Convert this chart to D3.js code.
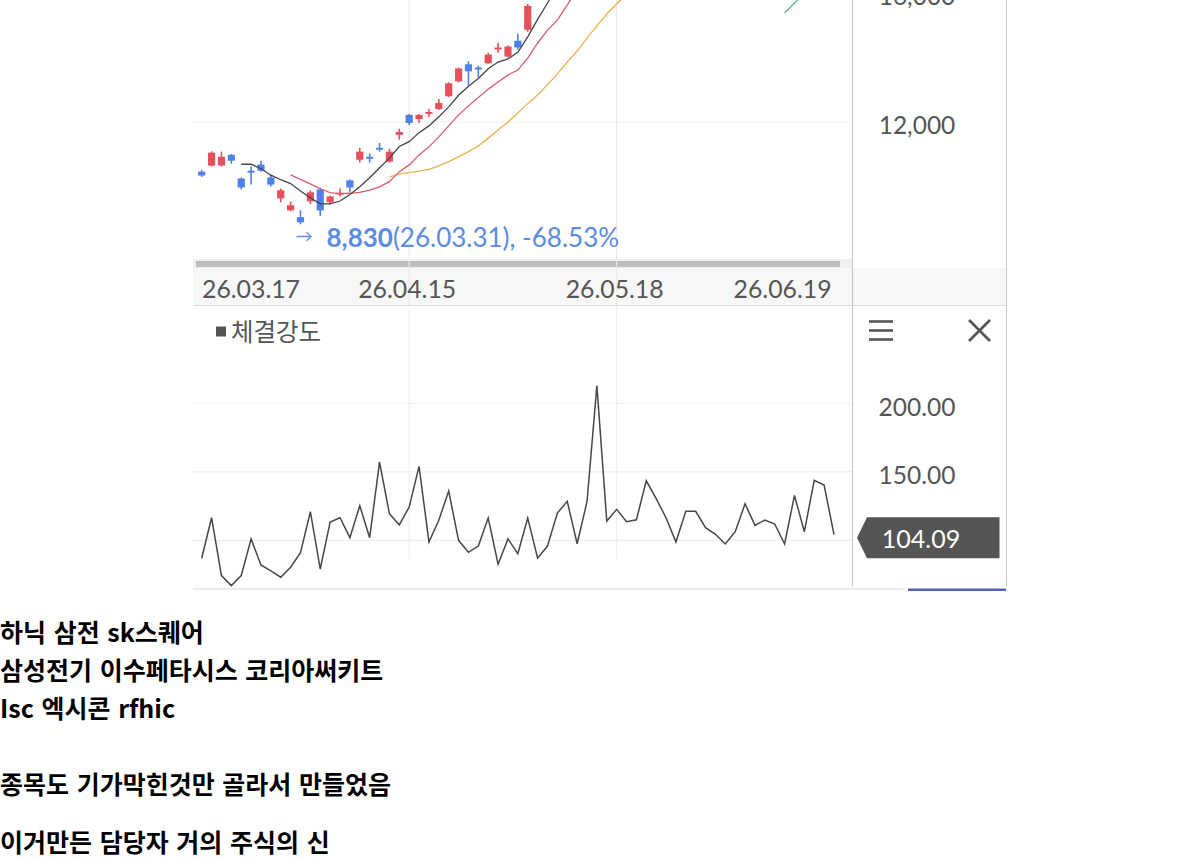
<!DOCTYPE html>
<html>
<head>
<meta charset="utf-8">
<script src="https://cdnjs.cloudflare.com/ajax/libs/d3/7.8.5/d3.min.js"></script>
<style>
  body { margin: 0; background: #fff; }
  svg { display: block; }
</style>
</head>
<body>
<div id="chart"></div>
<script>
// candles (only the ones inside the visible window, index 0 = 26.03.17)
var candleOpen  = [10460,10650,10650,10980,10250,10490,10680,10280,9630,9260,9050,9540,9910,9510,9750,10190,10830,10920,11200,10770,11600,12220,12090,12250,12400,12800,13260,13790,13690,13820,14250,14030,14520,14860];
var candleHigh  = [10520,11090,11080,11010,10280,10620,10800,10370,9940,9540,9260,9880,9970,9720,9940,10220,11200,11020,11350,11170,11790,12250,12250,12400,12710,13230,13690,13880,13750,14150,14460,14370,14740,15660];
var candleLow   = [10300,10620,10620,10710,9910,10060,10460,10000,9510,9230,8830,9450,9080,9450,9690,9820,10740,10740,11080,10740,11450,11910,11970,12150,12370,12770,13230,13140,13390,13810,14150,14000,14250,14800];
var candleClose = [10340,11050,10920,10800,9970,10430,10490,10060,9880,9420,8890,9820,9260,9690,9810,9970,11080,10860,11140,11080,11690,11970,12220,12310,12590,13200,13660,13570,13630,14090,14310,14340,14310,15600];

// moving averages (start = first index drawn)
var ma5Start = 4;
var ma5  = [10690,10690,10550,10350,10210,10090,9860,9650,9460,9460,9550,9750,9990,10270,10580,10880,11240,11390,11670,11880,12160,12470,12830,13110,13350,13650,13860,13960,14160,14640,15180,15690,16200];
var ma10Start = 9;
var ma10 = [10360,10220,10080,9930,9810,9770,9790,9820,9890,9990,10150,10460,10670,10980,11230,11540,11880,12220,12500,12760,13020,13240,13460,13610,13980,14450,14850,15160,15630,16090];
var ma20Start = 19;
var ma20 = [10300,10390,10430,10480,10530,10640,10770,10920,11080,11260,11500,11750,12000,12280,12570,12840,13150,13490,13860,14200,14600,14980,15350,15660,15970];
var ma60Start = 59;
var ma60 = [15380,15690,16000];

// 체결강도 series, 65 sessions
var strength = [86.9,116.5,74.2,66.9,74.2,101.0,82.0,77.6,73.0,80.3,
  91.0,120.9,79.0,113.4,116.5,101.9,125.3,101.9,157.2,119.4,
  111.2,124.3,154.0,98.8,114.6,136.0,100.0,91.2,95.8,116.3,
  82.5,101.0,90.2,116.3,86.9,95.8,119.9,128.5,97.5,128.2,
  213.1,114.1,122.6,113.6,115.0,143.5,130.4,116.5,98.8,121.2,
  121.2,109.2,104.4,97.3,106.3,126.7,110.9,114.8,111.9,97.3,
  132.8,106.3,143.8,140.4,104.09];

var priceTicks = [12000, 16000];
var strengthTicks = [100, 150, 200];
var dateTickIdx = [0, 21, 42, 59];
var dateTickLabels = ["26.03.17", "26.04.15", "26.05.18", "26.06.19"];
var gridIdx = [21, 42];

var lowIdx = 10;
var lowText = "8,830";
var lowRest = "(26.03.31), -68.53%";

var paragraphs = [
  ["하닉 삼전 sk스퀘어", "삼성전기 이수페타시스 코리아써키트", "Isc 엑시콘 rfhic", "", "종목도 기가막힌것만 골라서 만들었음"],
  ["이거만든 담당자 거의 주식의 신"]
];

// ---- layout ----
var W = 1200, H = 860;
var plotL = 193, plotR = 852, axisR = 1007;
var upBottom = 259, stripTop = 268, stripBottom = 305.5;
var lowTop = 306, lowBottom = 586;
var font = "Lato, 'Noto Sans CJK KR', sans-serif";
var grey = "#555";
var upColor = "#e5505a", downColor = "#4f80e6";

var svg = d3.select("#chart").append("svg")
  .attr("width", W)
  .attr("height", H);

svg.append("rect").attr("width", W).attr("height", H).attr("fill", "#fff");

var x = d3.scaleLinear().domain([0, strength.length - 1]).range([201.7, 834]);
var y = d3.scaleLinear().domain([12000, 16000]).range([122, -7]);
var y2 = d3.scaleLinear().domain([100, 200]).range([540.3, 403.5]);

// date strip + scrollbar
svg.append("rect").attr("x", plotL).attr("y", stripTop).attr("width", axisR - plotL).attr("height", stripBottom - stripTop).attr("fill", "#f7f7f7");
svg.append("rect").attr("x", plotL).attr("y", upBottom).attr("width", plotR - plotL).attr("height", stripTop - upBottom).attr("fill", "#efefef");
svg.append("rect").attr("x", 196).attr("y", 261).attr("width", 644).attr("height", 6).attr("fill", "#bdbdbd");

// grid
svg.selectAll(".hgrid").data(priceTicks).enter().append("line")
  .attr("x1", plotL).attr("x2", plotR)
  .attr("y1", function(d) { return y(d); }).attr("y2", function(d) { return y(d); })
  .attr("stroke", "#efefef").attr("stroke-width", 1.2);
svg.selectAll(".vgrid").data(gridIdx).enter().append("line")
  .attr("x1", function(d) { return x(d); }).attr("x2", function(d) { return x(d); })
  .attr("y1", 0).attr("y2", stripBottom)
  .attr("stroke", "#e9e9e9").attr("stroke-width", 1.2);
svg.selectAll(".hgrid2").data(strengthTicks).enter().append("line")
  .attr("x1", plotL).attr("x2", plotR)
  .attr("y1", function(d) { return y2(d); }).attr("y2", function(d) { return y2(d); })
  .attr("stroke", "#efefef").attr("stroke-width", 1.2);
svg.selectAll(".vgrid2").data(gridIdx).enter().append("line")
  .attr("x1", function(d) { return x(d); }).attr("x2", function(d) { return x(d); })
  .attr("y1", lowTop).attr("y2", 559)
  .attr("stroke", "#efefef").attr("stroke-width", 1.2);

// panel borders
svg.append("line").attr("x1", plotL).attr("x2", axisR).attr("y1", stripBottom).attr("y2", stripBottom).attr("stroke", "#dcdcdc");
svg.append("line").attr("x1", plotR + 0.5).attr("x2", plotR + 0.5).attr("y1", 0).attr("y2", lowBottom).attr("stroke", "#c4c4c4");
svg.append("line").attr("x1", axisR - 0.5).attr("x2", axisR - 0.5).attr("y1", 0).attr("y2", lowBottom).attr("stroke", "#c4c4c4");
svg.append("line").attr("x1", plotL).attr("x2", 905).attr("y1", 589).attr("y2", 589).attr("stroke", "#e6e6e6").attr("stroke-width", 1.5);
svg.append("rect").attr("x", 908).attr("y", 588.5).attr("width", 98).attr("height", 2.5).attr("fill", "#4f5fc6");

// price panel
svg.append("clipPath").attr("id", "upclip").append("rect")
  .attr("x", plotL).attr("y", 0).attr("width", plotR - plotL).attr("height", upBottom);
var up = svg.append("g").attr("clip-path", "url(#upclip)");

var candles = up.selectAll(".candle").data(candleOpen).enter().append("g");
candles.append("line")
  .attr("x1", function(d, i) { return x(i); }).attr("x2", function(d, i) { return x(i); })
  .attr("y1", function(d, i) { return y(candleHigh[i]); })
  .attr("y2", function(d, i) { return y(candleLow[i]); })
  .attr("stroke", function(d, i) { return candleClose[i] >= d ? upColor : downColor; })
  .attr("stroke-width", 1.6);
candles.append("rect")
  .attr("x", function(d, i) { return x(i) - 3.6; })
  .attr("width", 7.2)
  .attr("y", function(d, i) { return y(Math.max(d, candleClose[i])); })
  .attr("height", function(d, i) { return Math.max(1.6, Math.abs(y(d) - y(candleClose[i]))); })
  .attr("fill", function(d, i) { return candleClose[i] >= d ? upColor : downColor; });

var maLines = [
  { values: ma20, start: ma20Start, color: "#f0b04c" },
  { values: ma10, start: ma10Start, color: "#de5a70" },
  { values: ma5,  start: ma5Start,  color: "#444" },
  { values: ma60, start: ma60Start, color: "#55b888" }
];
var maPath = d3.line().x(function(d) { return x(d[0]); }).y(function(d) { return y(d[1]); });
maLines.forEach(function(m) {
  up.append("path")
    .attr("d", maPath(m.values.map(function(v, i) { return [m.start + i, v]; })))
    .attr("fill", "none").attr("stroke", m.color).attr("stroke-width", 1.3);
});

// lowest price note
var noteY = y(candleLow[lowIdx]) + 13;
up.append("text").attr("x", x(lowIdx) - 5).attr("y", noteY - 2)
  .attr("font-family", font).attr("font-size", 17).attr("fill", "#5b8be6")
  .attr("dominant-baseline", "central").text("→");
var note = up.append("text").attr("x", 326.5).attr("y", noteY)
  .attr("font-family", font).attr("font-size", 26).attr("fill", "#5b8be6")
  .attr("dominant-baseline", "central");
note.append("tspan").attr("font-weight", 700).text(lowText);
note.append("tspan").text(lowRest);

// price axis labels
svg.selectAll(".plab").data(priceTicks).enter().append("text")
  .attr("x", 917).attr("y", function(d) { return y(d) + 2; })
  .attr("text-anchor", "middle").attr("dominant-baseline", "central")
  .attr("font-family", font).attr("font-size", 24.5).attr("fill", grey)
  .text(function(d) { return d3.format(",")(d); });

// date labels, the first one is pushed inside the plot
svg.selectAll(".dlab").data(dateTickIdx).enter().append("text")
  .attr("y", 288).attr("dominant-baseline", "central")
  .attr("font-family", font).attr("font-size", 24.8).attr("fill", grey)
  .text(function(d, i) { return dateTickLabels[i]; })
  .each(function(d) {
    var w = this.getComputedTextLength();
    var cx = x(d) - 2;
    if (cx - w / 2 < plotL + 8) cx = plotL + 9 + w / 2;
    d3.select(this).attr("x", cx).attr("text-anchor", "middle");
  });

// strength panel header
svg.append("rect").attr("x", 216).attr("y", 326.5).attr("width", 10).attr("height", 10).attr("fill", grey);
svg.append("text").attr("x", 231).attr("y", 331).attr("dominant-baseline", "central")
  .attr("font-family", font).attr("font-size", 24.5).attr("fill", grey).text("체결강도");

[321.5, 330.5, 339.5].forEach(function(yy) {
  svg.append("line").attr("x1", 869).attr("x2", 893).attr("y1", yy).attr("y2", yy)
    .attr("stroke", grey).attr("stroke-width", 2.6);
});
svg.append("line").attr("x1", 969).attr("y1", 320).attr("x2", 990).attr("y2", 341).attr("stroke", grey).attr("stroke-width", 2.6);
svg.append("line").attr("x1", 990).attr("y1", 320).attr("x2", 969).attr("y2", 341).attr("stroke", grey).attr("stroke-width", 2.6);

var line = d3.line().x(function(d, i) { return x(i); }).y(function(d) { return y2(d); });
svg.append("path").attr("d", line(strength))
  .attr("fill", "none").attr("stroke", "#474747").attr("stroke-width", 1.5);

svg.selectAll(".slab").data(strengthTicks.slice(1)).enter().append("text")
  .attr("x", 917).attr("y", function(d) { return y2(d) + 3; })
  .attr("text-anchor", "middle").attr("dominant-baseline", "central")
  .attr("font-family", font).attr("font-size", 24.5).attr("fill", grey)
  .text(function(d) { return d3.format(".2f")(d); });

// last value tag
var last = strength[strength.length - 1];
var tagY = y2(last) + 3;
svg.append("path")
  .attr("d", "M857," + tagY + "L867," + (tagY - 20.5) + "H999.5V" + (tagY + 20.5) + "H867Z")
  .attr("fill", "#555");
svg.append("text").attr("x", 921).attr("y", tagY)
  .attr("text-anchor", "middle").attr("dominant-baseline", "central")
  .attr("font-family", font).attr("font-size", 25).attr("fill", "#fff")
  .text(d3.format(".2f")(last));

// text under the chart
var lineH = 38, paraGap = 20, ty = 631;
paragraphs.forEach(function(p) {
  p.forEach(function(t) {
    if (t) {
      svg.append("text").attr("x", 0).attr("y", ty).attr("dominant-baseline", "central")
        .attr("font-family", "'Noto Sans CJK KR', sans-serif").attr("font-weight", 700)
        .attr("font-size", 25).attr("word-spacing", 2).attr("fill", "#000").text(t);
    }
    ty += lineH;
  });
  ty += paraGap;
});
</script>
</body>
</html>
